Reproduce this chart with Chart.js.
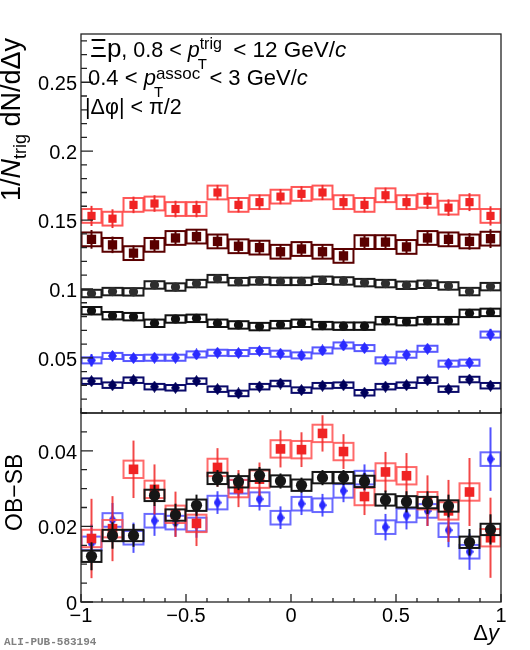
<!DOCTYPE html>
<html>
<head>
<meta charset="utf-8">
<script src="https://cdn.jsdelivr.net/npm/chart.js@4.4.1/dist/chart.umd.min.js"></script>
<style>
html, body { margin: 0; padding: 0; background: #fff; }
#wrap { position: relative; width: 530px; height: 650px; }
#wrap canvas { position: absolute; left: 0; top: 0; }
</style>
</head>
<body>
<div id="wrap">
  <canvas id="cTop" width="530" height="650"></canvas>
  <canvas id="cBot" width="530" height="650"></canvas>
</div>
<script>
// bin centres in delta y
const dy = [-0.95, -0.85, -0.75, -0.65, -0.55, -0.45, -0.35, -0.25, -0.15, -0.05,
            0.05, 0.15, 0.25, 0.35, 0.45, 0.55, 0.65, 0.75, 0.85, 0.95];
const boxHalf = 0.0475;

// upper panel: 1/Ntrig dN/ddy
const redTop = [0.153, 0.151, 0.161, 0.162, 0.158, 0.158, 0.170, 0.161, 0.163, 0.167,
                0.169, 0.170, 0.163, 0.161, 0.168, 0.163, 0.164, 0.159, 0.163, 0.153];
const redTopStat = [0.0073, 0.0068, 0.006, 0.006, 0.006, 0.006, 0.0055, 0.0055, 0.0055, 0.0055,
                    0.0055, 0.0055, 0.0055, 0.0055, 0.0055, 0.0055, 0.006, 0.006, 0.0065, 0.007];
const redTopSyst = 0.005;

const maroonTop = [0.136, 0.132, 0.126, 0.132, 0.137, 0.138, 0.1345, 0.131, 0.130, 0.127,
                   0.129, 0.127, 0.124, 0.134, 0.134, 0.1305, 0.137, 0.136, 0.1345, 0.1365];
const maroonTopStat = [0.0068, 0.006, 0.0055, 0.005, 0.005, 0.005, 0.005, 0.005, 0.005, 0.005,
                       0.005, 0.005, 0.005, 0.005, 0.005, 0.005, 0.005, 0.005, 0.006, 0.0068];
const maroonTopSyst = 0.005;

const greyTop = [0.0967, 0.0981, 0.0979, 0.1029, 0.1014, 0.1039, 0.1075, 0.1053, 0.1058, 0.1055,
                 0.1055, 0.1063, 0.1058, 0.1046, 0.1039, 0.1027, 0.1034, 0.1022, 0.0981, 0.1017];
const greyTopStat = [0.0025, 0.0022, 0.002, 0.002, 0.002, 0.002, 0.002, 0.002, 0.002, 0.002,
                     0.002, 0.002, 0.002, 0.002, 0.002, 0.002, 0.002, 0.002, 0.0022, 0.0025];
const greyTopSyst = 0.0027;

const blackTop = [0.0842, 0.0806, 0.0799, 0.0751, 0.0782, 0.0787, 0.0751, 0.0739, 0.0727, 0.0741,
                  0.0751, 0.0734, 0.0730, 0.0730, 0.0770, 0.0763, 0.0770, 0.0770, 0.0823, 0.0830];
const blackTopStat = [0.0022, 0.002, 0.002, 0.0018, 0.0018, 0.0018, 0.0018, 0.0018, 0.0018, 0.0018,
                      0.0018, 0.0018, 0.0018, 0.0018, 0.0018, 0.0018, 0.0018, 0.002, 0.002, 0.0022];
const blackTopSyst = 0.0027;

const blueTop = [0.0482, 0.0514, 0.0499, 0.0501, 0.0501, 0.0525, 0.0537, 0.0535, 0.0550, 0.0530,
                 0.0518, 0.0554, 0.0590, 0.0571, 0.0482, 0.0523, 0.0566, 0.0458, 0.0465, 0.0669];
const blueTopStat = [0.0045, 0.0035, 0.003, 0.003, 0.003, 0.003, 0.003, 0.003, 0.003, 0.003,
                     0.003, 0.003, 0.003, 0.003, 0.003, 0.003, 0.003, 0.003, 0.0035, 0.0042];
const blueTopSyst = 0.0022;

const navyTop = [0.0331, 0.0302, 0.0338, 0.0291, 0.0283, 0.0331, 0.0273, 0.0242, 0.0291, 0.0314,
                 0.0266, 0.0298, 0.0302, 0.0247, 0.0291, 0.0302, 0.0338, 0.0273, 0.0343, 0.0298];
const navyTopStat = [0.003, 0.0028, 0.0028, 0.0026, 0.0026, 0.0026, 0.0026, 0.0026, 0.0026, 0.0026,
                     0.0026, 0.0026, 0.0026, 0.0026, 0.0026, 0.0026, 0.0026, 0.0028, 0.0028, 0.003];
const navyTopSyst = 0.002;

// lower panel: OB-SB
const redDiff = [0.0168, 0.0194, 0.0351, 0.0298, 0.0232, 0.0208, 0.0356, 0.0300, 0.0325, 0.0405,
                 0.0403, 0.0446, 0.0398, 0.0279, 0.0344, 0.0334, 0.0268, 0.0241, 0.0291, 0.0170];
const redDiffStat = [0.0105, 0.0086, 0.0076, 0.0066, 0.006, 0.006, 0.0051, 0.0049, 0.0044, 0.0049,
                     0.0046, 0.0048, 0.0046, 0.0049, 0.0053, 0.006, 0.0067, 0.0082, 0.009, 0.0106];
const redDiffSyst = 0.0023;

const blackDiff = [0.0121, 0.0176, 0.0176, 0.0282, 0.0230, 0.0256, 0.0327, 0.0318, 0.0335, 0.0320,
                   0.0309, 0.0329, 0.0329, 0.0319, 0.0270, 0.0265, 0.0263, 0.0254, 0.0158, 0.0192];
const blackDiffStat = [0.0037, 0.0035, 0.003, 0.0028, 0.003, 0.0028, 0.0022, 0.0022, 0.0022, 0.002,
                       0.002, 0.002, 0.002, 0.0022, 0.0025, 0.0028, 0.003, 0.003, 0.0035, 0.004];
const blackDiffSyst = 0.0015;

const blueDiff = [0.0155, 0.0217, 0.0170, 0.0215, 0.0210, 0.0205, 0.0263, 0.0305, 0.0272, 0.0223,
                  0.0260, 0.0256, 0.0294, 0.0329, 0.0198, 0.0229, 0.0241, 0.0190, 0.0133, 0.0378];
const blueDiffStat = [0.005, 0.0045, 0.004, 0.004, 0.0037, 0.0035, 0.003, 0.003, 0.003, 0.003,
                      0.003, 0.003, 0.003, 0.0035, 0.0035, 0.0037, 0.004, 0.0045, 0.0048, 0.0084];
const blueDiffSyst = 0.0018;

// axes
const xTicks = [-1, -0.5, 0, 0.5, 1];
const xTickLabels = ['\u22121', '\u22120.5', '0', '0.5', '1'];
const topYTicks = [0.05, 0.1, 0.15, 0.2, 0.25];
const topYLabels = ['0.05', '0.1', '0.15', '0.2', '0.25'];
const botYTicks = [0, 0.02, 0.04];
const botYLabels = ['0', '0.02', '0.04'];

const SANS = '"Liberation Sans", Arial, Helvetica, sans-serif';

function diamond(w, h, color) {
    const c = document.createElement('canvas');
    c.width = w; c.height = h;
    const g = c.getContext('2d');
    g.fillStyle = color;
    g.beginPath();
    g.moveTo(w / 2, 0); g.lineTo(w, h / 2); g.lineTo(w / 2, h); g.lineTo(0, h / 2);
    g.closePath();
    g.fill();
    return c;
}

function series(vals, stat, syst, marker, color, boxColor, errColor) {
    return {
        data: dy.map((x, i) => ({ x, y: vals[i] })),
        stat, syst, boxColor, errColor: errColor || color,
        pointStyle: marker.style,
        pointRadius: marker.r || 5,
        pointBackgroundColor: color,
        pointBorderWidth: 0,
        pointHoverRadius: marker.r || 5
    };
}

// boxes (syst) and vertical bars (stat) drawn under each dataset's markers
const errorBoxes = {
    id: 'errorBoxes',
    beforeDatasetDraw(chart, args) {
        const ds = chart.data.datasets[args.index];
        const ctx = chart.ctx, xs = chart.scales.x, ys = chart.scales.y, a = chart.chartArea;
        ctx.save();
        ctx.beginPath();
        ctx.rect(a.left, a.top, a.right - a.left, a.bottom - a.top);
        ctx.clip();
        ctx.lineWidth = 2;
        ctx.strokeStyle = ds.boxColor;
        ds.data.forEach(p => {
            const x0 = xs.getPixelForValue(p.x - boxHalf), x1 = xs.getPixelForValue(p.x + boxHalf);
            const y0 = ys.getPixelForValue(p.y + ds.syst), y1 = ys.getPixelForValue(p.y - ds.syst);
            ctx.strokeRect(x0, y0, x1 - x0, y1 - y0);
        });
        ctx.strokeStyle = ds.errColor;
        ds.data.forEach((p, i) => {
            const x = xs.getPixelForValue(p.x);
            ctx.beginPath();
            ctx.moveTo(x, ys.getPixelForValue(p.y + ds.stat[i]));
            ctx.lineTo(x, ys.getPixelForValue(p.y - ds.stat[i]));
            ctx.stroke();
        });
        ctx.restore();
    }
};

function drawRun(ctx, x, y, parts) {
    let cx = x;
    for (const p of parts) {
        ctx.font = (p.i ? 'italic ' : '') + p.s + 'px ' + SANS;
        ctx.fillText(p.t, cx + (p.xo || 0), y + (p.dy || 0));
        if (!p.noAdv) cx += ctx.measureText(p.t).width + (p.xo || 0);
    }
    return cx;
}

function runWidth(ctx, parts) {
    let w = 0;
    for (const p of parts) {
        ctx.font = (p.i ? 'italic ' : '') + p.s + 'px ' + SANS;
        if (!p.noAdv) w += ctx.measureText(p.t).width + (p.xo || 0);
    }
    return w;
}

// frame, inside ticks and labels, drawn with the chart's own scales
function framePlugin(cfg) {
    return {
        id: 'frame_' + cfg.name,
        afterDraw(chart) {
            const ctx = chart.ctx, xs = chart.scales.x, ys = chart.scales.y, a = chart.chartArea;
            ctx.save();
            ctx.strokeStyle = '#222';
            ctx.lineWidth = 1.3;
            ctx.strokeRect(a.left, a.top, a.right - a.left, a.bottom - a.top);

            // y ticks
            const nMinor = Math.round((ys.max - ys.min) / cfg.yMinorStep);
            ctx.beginPath();
            for (let k = 0; k <= nMinor; k++) {
                const v = ys.min + k * cfg.yMinorStep;
                const y = ys.getPixelForValue(v);
                const major = cfg.yTicks.some(t => Math.abs(t - v) < 1e-9);
                ctx.moveTo(a.left, y);
                ctx.lineTo(a.left + (major ? cfg.yMajor : cfg.yMinor), y);
            }
            // x ticks
            const nx = Math.round((xs.max - xs.min) / 0.1);
            for (let k = 0; k <= nx; k++) {
                const v = xs.min + k * 0.1;
                const x = xs.getPixelForValue(v);
                const major = xTicks.some(t => Math.abs(t - v) < 1e-9);
                ctx.moveTo(x, a.bottom);
                ctx.lineTo(x, a.bottom - (major ? cfg.xMajor : cfg.xMinor));
            }
            ctx.stroke();

            ctx.fillStyle = '#000';
            ctx.font = '20px ' + SANS;
            ctx.textAlign = 'right';
            ctx.textBaseline = 'alphabetic';
            cfg.yTicks.forEach((v, i) => {
                ctx.fillText(cfg.yLabels[i], a.left - 4, ys.getPixelForValue(v) + 8);
            });
            if (cfg.xLabels) {
                ctx.textAlign = 'center';
                xTicks.forEach((v, i) => {
                    ctx.fillText(xTickLabels[i], xs.getPixelForValue(v), a.bottom + 20);
                });
            }
            ctx.textAlign = 'left';
            if (cfg.extra) cfg.extra(ctx, a);
            ctx.restore();
        }
    };
}

function topText(ctx) {
    ctx.fillStyle = '#000';
    drawRun(ctx, 90, 57, [
        { t: '\u039Ep', s: 26 },
        { t: ', 0.8 < ', s: 21.5 },
        { t: 'p', s: 21.5, i: true },
        { t: 'T', s: 15, dy: 12, xo: -2, noAdv: true },
        { t: 'trig', s: 16, dy: -8 },
        { t: ' < 12 GeV/', s: 22.5, xo: 5 },
        { t: 'c', s: 22.5, i: true }
    ]);
    drawRun(ctx, 88, 85, [
        { t: '0.4 < ', s: 22 },
        { t: 'p', s: 22, i: true },
        { t: 'T', s: 15, dy: 12, xo: -2, noAdv: true },
        { t: 'assoc', s: 17, dy: -6 },
        { t: ' < 3 GeV/', s: 22, xo: 3 },
        { t: 'c', s: 22, i: true }
    ]);
    drawRun(ctx, 85, 114, [{ t: '|\u0394\u03C6| < \u03C0/2', s: 21.5 }]);

    ctx.save();
    ctx.translate(20, 201);
    ctx.rotate(-Math.PI / 2);
    drawRun(ctx, 0, 0, [
        { t: '1/', s: 27 },
        { t: 'N', s: 27, i: true },
        { t: 'trig', s: 18, dy: 6 },
        { t: ' dN/d\u0394y', s: 27 }
    ]);
    ctx.restore();
}

function botText(ctx) {
    ctx.fillStyle = '#000';
    ctx.save();
    ctx.translate(22, 531);
    ctx.rotate(-Math.PI / 2);
    ctx.font = '23px ' + SANS;
    ctx.fillText('OB\u2212SB', 0, 0);
    ctx.restore();

    const xt = [{ t: '\u0394', s: 22 }, { t: 'y', s: 22, i: true }];
    drawRun(ctx, 499 - runWidth(ctx, xt), 640, xt);

    ctx.fillStyle = '#808080';
    ctx.font = 'bold 11px "Liberation Mono", "DejaVu Sans Mono", monospace';
    ctx.fillText('ALI-PUB-583194', 4, 645);
}

const baseOptions = (padding, yMin, yMax) => ({
    responsive: false,
    animation: false,
    devicePixelRatio: 1,
    layout: { padding },
    scales: {
        x: { type: 'linear', min: -1, max: 1, display: false },
        y: { type: 'linear', min: yMin, max: yMax, display: false }
    },
    plugins: { legend: { display: false }, tooltip: { enabled: false } }
});

new Chart(document.getElementById('cTop'), {
    type: 'scatter',
    data: {
        datasets: [
            series(redTop, redTopStat, redTopSyst, { style: 'rect', r: 5.8 }, '#f02424', 'rgba(255,70,70,0.9)', '#f03030'),
            series(maroonTop, maroonTopStat, maroonTopSyst, { style: 'rect', r: 6.6 }, '#5a0000', '#5a0000'),
            series(greyTop, greyTopStat, greyTopSyst, { style: 'circle', r: 4.6 }, '#2e2e2e', '#1c1c1c'),
            series(blackTop, blackTopStat, blackTopSyst, { style: 'circle', r: 4.6 }, '#111', '#111'),
            series(blueTop, blueTopStat, blueTopSyst, { style: diamond(9, 12, '#2a2aff') }, '#2a2aff', 'rgba(70,70,255,0.9)'),
            series(navyTop, navyTopStat, navyTopSyst, { style: diamond(9, 12, '#00005a') }, '#00005a', '#0a0a6a')
        ]
    },
    options: baseOptions({ left: 81, right: 29, top: 34, bottom: 237 }, 0.01, 0.285),
    plugins: [errorBoxes, framePlugin({
        name: 'top', yTicks: topYTicks, yLabels: topYLabels, yMinorStep: 0.01,
        yMajor: 12, yMinor: 6, xMajor: 5, xMinor: 3, xLabels: false, extra: topText
    })]
});

new Chart(document.getElementById('cBot'), {
    type: 'scatter',
    data: {
        datasets: [
            series(blackDiff, blackDiffStat, blackDiffSyst, { style: 'circle', r: 5.6 }, '#161616', '#161616', '#111'),
            series(redDiff, redDiffStat, redDiffSyst, { style: 'rect', r: 6.8 }, '#f02424', 'rgba(255,80,80,0.85)', 'rgba(240,40,40,0.85)'),
            series(blueDiff, blueDiffStat, blueDiffSyst, { style: diamond(8, 12, '#2a2aff') }, '#2a2aff', 'rgba(80,80,255,0.85)', 'rgba(50,50,255,0.85)')
        ]
    },
    options: baseOptions({ left: 81, right: 29, top: 413, bottom: 48 }, 0, 0.05),
    plugins: [errorBoxes, framePlugin({
        name: 'bot', yTicks: botYTicks, yLabels: botYLabels, yMinorStep: 0.005,
        yMajor: 12, yMinor: 6, xMajor: 8, xMinor: 4, xLabels: true, extra: botText
    })]
});
</script>
</body>
</html>
